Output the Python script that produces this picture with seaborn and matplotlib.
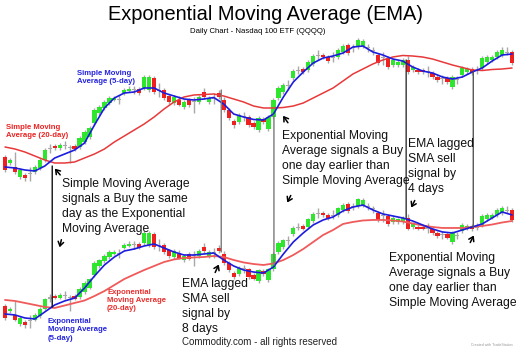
import numpy as np
import pandas as pd
import matplotlib
matplotlib.use("Agg")
import matplotlib.pyplot as plt
import seaborn as sns
from matplotlib.patches import ConnectionPatch

sns.set_theme(style="white")
plt.rcParams['font.family'] = ['Liberation Sans', 'DejaVu Sans']

# ---------------- data (daily candles, price units) ----------------
opens = [43, 37, 33, 23, 25, 27, 28, 32, 40, 51, 54, 52, 54, 52, 54, 53, 58, 63, 77, 87,
         92, 97, 100, 100, 107, 109, 110, 111, 112, 110, 122, 109, 110, 104, 97, 100, 93, 100, 98, 98,
         108, 98, 101, 107, 100, 90, 79, 78, 83, 83, 77, 70, 81, 71, 83, 102, 108, 114, 122, 129,
         131, 130, 136, 144, 145, 143, 142, 143, 148, 155, 152, 153, 154, 152, 149, 145, 142, 142, 135, 135,
         135, 140, 130, 130, 130, 128, 127, 123, 121, 122, 113, 120, 125, 128, 131, 129, 132, 138, 140, 143,
         145, 148, 148]
closes = [30, 40, 28, 30, 22, 26, 33, 40, 50, 52, 52, 55, 55, 53, 51, 62, 68, 72, 90, 93,
          98, 102, 102, 101, 110, 111, 110.5, 107, 123, 123, 108, 110, 102, 98, 103, 95, 98, 95, 99, 103,
          103, 102, 102, 103, 90, 82, 75, 85, 84, 75, 73, 82, 78, 83, 100, 112, 115, 115, 129, 130,
          128, 138, 144, 145, 143, 139, 143, 150, 154, 147, 153, 160, 159, 153, 150, 137, 143, 133, 140, 138,
          140, 128, 133, 128, 128, 129, 123, 120, 122, 118, 123, 121, 132, 131, 127, 130, 142, 143, 143, 148,
          150, 147, 137]
highs = [45, 42, 48, 32, 27, 33, 35, 42, 52, 56, 56, 57, 59, 55, 56, 64, 70, 74, 92, 95,
         100, 104, 104, 105, 112, 114, 114, 113, 125, 125, 124, 117, 112, 106, 105, 104, 100, 102, 103, 105,
         112, 104, 107, 110, 103, 92, 81, 87, 88, 85, 79, 84, 83, 85, 102, 114, 117, 120, 131, 134,
         133, 140, 146, 150, 147, 145, 148, 152, 156, 157, 156, 162, 161, 156, 153, 147, 148, 144, 142, 140,
         142, 144, 135, 132, 132, 134, 129, 125, 125, 124, 125, 124, 134, 133, 133, 134, 144, 145, 145, 150,
         153, 153, 150]
lows = [28, 35, 26, 21, 19, 19, 26, 30, 38, 47, 50, 50, 51, 37, 49, 51, 56, 61, 75, 85,
        90, 95, 99, 96, 105, 108, 106, 105, 110, 108, 106, 103, 100, 96, 95, 94, 91, 93, 87, 96,
        101, 96, 96, 101, 88, 80, 72, 76, 79, 73, 71, 68, 76, 69, 81, 100, 106, 110, 120, 126,
        126, 128, 134, 140, 141, 137, 138, 141, 146, 145, 148, 151, 152, 148, 145, 135, 135, 131, 133, 133,
        133, 126, 128, 126, 126, 123, 121, 118, 116, 116, 111, 116, 123, 126, 125, 126, 130, 136, 138, 141,
        143, 145, 135]

# moving averages, read every second trading day
ma_days = list(range(0, 103, 2))
sma5 = [33, 32, 30, 29, 34, 42, 46, 50, 57, 75, 92, 102, 107, 108, 112, 112, 107, 104, 101, 100,
        101, 102.5, 96, 86, 83, 80.5, 80, 86, 103, 118, 128, 137, 142, 144, 147, 153, 154, 148, 145, 141,
        139, 133, 129, 127, 123, 121, 123, 128, 132, 139, 145, 146]
sma20 = [53, 51, 48, 44, 40, 37, 37, 38, 42, 46, 51, 58, 64, 70, 76, 83, 91, 98, 103, 105,
         105.5, 106, 104, 101, 98, 94, 92, 92, 92.5, 94, 97, 102, 107, 112, 119, 126, 131, 136, 140, 143,
         144.5, 144, 143, 141, 138, 135, 132.5, 130, 129.5, 130.5, 131, 132]
ema5 = [34.1, 33.0, 29.7, 28.6, 36.3, 44.0, 48.4, 51.6, 62.6, 75.8, 87.9, 96.7, 103.3, 105.5, 108.8, 111.0,
        106.6, 102.2, 98.9, 98.9, 100.0, 101.1, 93.4, 86.8, 82.4, 80.2, 79.1, 85.7, 100.0, 113.2, 123.1,
        131.9, 137.4, 140.7, 147.3, 151.6, 153.8, 148.4, 144.0, 141.8, 139.6, 136.3, 131.9, 127.5, 124.2,
        123.1, 126.4, 129.7, 133.0, 139.6, 146.2, 142.9]
ema20 = [49.5, 48.4, 46.2, 44.0, 41.8, 40.7, 43.4, 46.2, 48.9, 53.8, 59.3, 65.9, 72.5, 77.5, 82.4, 86.8,
         91.2, 94.0, 95.6, 96.2, 96.7, 97.8, 96.7, 93.4, 90.7, 89.0, 87.9, 89.6, 93.4, 98.9, 105.5,
         113.2, 120.9, 126.4, 133.0, 135.2, 136.8, 137.4, 137.4, 136.8, 135.7, 133.5, 131.3, 129.7, 128.6,
         128.6, 128.6, 129.7, 130.8, 132.4, 134.6, 136.3]

# crossover signal days and the price level where each marker line ends
signal_days = [9.5, 43.5, 54.1, 80.7, 94.2]
signal_top = [34, 110, 85, 140, 128]
signal_bot = [41.8, 102.2, 87.9, 139.6, 128.6]

# ---------------- figure ----------------
W, H = 520, 350
fig = plt.figure(figsize=(W / 100, H / 100), dpi=100)
fig.patch.set_facecolor('white')

def px(x, y):
    return (x / W, 1 - y / H)

xlim = (-1.006, 103.6)
ax_top = fig.add_axes([0, 0, 1, 1])
ax_bot = fig.add_axes([0, 0, 1, 1])

days = np.arange(len(opens))
o = np.array(opens, float)
c = np.array(closes, float)
GREEN, RED, GREY = '#2ee62e', '#ee2020', '#a8a8a8'
cols = [GREY if abs(cc - oo) <= 1 else (GREEN if cc > oo else RED) for oo, cc in zip(o, c)]
bottoms = np.minimum(o, c)
heights = np.maximum(np.abs(c - o), 1.2)

df_ma = pd.DataFrame({'day': ma_days, 'sma5': sma5, 'sma20': sma20, 'ema5': ema5, 'ema20': ema20})

def candles(ax):
    ax.vlines(days, lows, highs, color=GREY, lw=1.0, zorder=2)
    ax.bar(days, heights, bottom=bottoms, width=0.85, color=cols, linewidth=0, zorder=2.5)

candles(ax_top)
candles(ax_bot)
sns.lineplot(data=df_ma, x='day', y='sma20', ax=ax_top, color='#e8393a', lw=1.1, zorder=3)
sns.lineplot(data=df_ma, x='day', y='sma5', ax=ax_top, color='#1c1cde', lw=1.2, zorder=3.5)
sns.lineplot(data=df_ma, x='day', y='ema20', ax=ax_bot, color='#f05a5a', lw=1.3, zorder=3)
sns.lineplot(data=df_ma, x='day', y='ema5', ax=ax_bot, color='#1c1cde', lw=1.2, zorder=3.5)
for ax in (ax_top, ax_bot):
    ax.set_xlim(*xlim)
    ax.set_axis_off()
    ax.patch.set_alpha(0)
ax_top.set_ylim(-150, 200)
ax_bot.set_ylim(-5.5, 379.1)

line_cols = ['#111111', '#7a7a7a', '#7a7a7a', '#333333', '#555555']
for d, pt, pb, lc in zip(signal_days, signal_top, signal_bot, line_cols):
    con = ConnectionPatch(xyA=(d, pt), coordsA=ax_top.transData,
                          xyB=(d, pb), coordsB=ax_bot.transData,
                          color=lc, lw=1.0, zorder=1)
    fig.add_artist(con)

# ---------------- texts ----------------
fig.text(*px(265, 20), 'Exponential Moving Average (EMA)', ha='center', va='baseline',
         fontsize=14.4, color='black')
fig.text(*px(258, 33), 'Daily Chart - Nasdaq 100 ETF (QQQQ)', ha='center', va='baseline',
         fontsize=5.6, color='black')

lab = dict(fontsize=5.6, fontweight='bold', va='top', ha='left', linespacing=1.25)
fig.text(*px(77, 70), 'Simple Moving\nAverage (5-day)', color='#2424dc', **lab)
fig.text(*px(6, 124), 'Simple Moving\nAverage (20-day)', color='#e82424', **lab)
fig.text(*px(107, 289), 'Exponential\nMoving Average\n(20-day)', color='#e83030', **lab)
fig.text(*px(48, 318), 'Exponential\nMoving Average\n(5-day)', color='#2424dc', **lab)

note = dict(fontsize=8.7, va='top', ha='left', color='#111111', linespacing=1.32)
fig.text(*px(62, 178), 'Simple Moving Average\nsignals a Buy the same\nday as the Exponential\nMoving Average', **note)
fig.text(*px(282, 130), 'Exponential Moving\nAverage signals a Buy\none day earlier than\nSimple Moving Average', **note)
fig.text(*px(408, 138), 'EMA lagged\nSMA sell\nsignal by\n4 days', **note)
fig.text(*px(182, 278), 'EMA lagged\nSMA sell\nsignal by\n8 days', **note)
fig.text(*px(389, 252), 'Exponential Moving\nAverage signals a Buy\none day earlier than\nSimple Moving Average', **note)

fig.text(*px(260, 342), 'Commodity.com - all rights reserved', ha='center', va='center',
         fontsize=7.0, color='#222222')
fig.text(*px(492, 344.5), 'Created with TradeStation', ha='center', va='center',
         fontsize=2.6, color='#9a9a9a')

arrows = [((62, 177), (53, 166.5)), ((62, 237), (59, 250)),
          ((289.5, 125), (281.5, 113.5)), ((292, 193), (286, 205)),
          ((416, 198), (410, 210)), ((214, 275), (220, 262)),
          ((469, 245), (475, 233))]
for (tx, ty), (hx, hy) in arrows:
    fig.add_artist(matplotlib.patches.FancyArrowPatch(
        px(tx, ty), px(hx, hy), transform=fig.transFigure,
        arrowstyle='->,head_length=3,head_width=2', color='black', lw=1.1, mutation_scale=1))

fig.savefig('out.png', dpi=100, facecolor='white')
